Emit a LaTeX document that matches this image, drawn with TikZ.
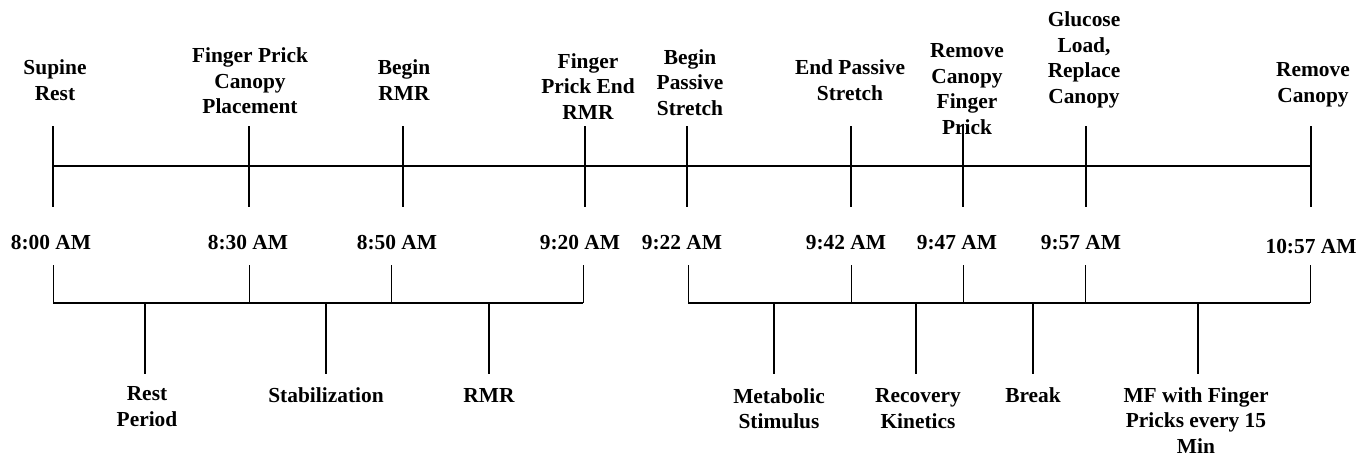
\documentclass[tikz,border=0pt]{standalone}
\usepackage{fontspec}
\setmainfont{Liberation Serif}
\begin{document}
\begin{tikzpicture}[x=1pt,y=-1pt,
  lbl/.style={font=\fontsize{21.4}{25.5}\selectfont\bfseries, align=center, inner sep=0pt},
  axis/.style={line width=2.6pt},
  tick/.style={line width=2.4pt},
  brk/.style={line width=2pt},
  upt/.style={line width=1pt},
  dnt/.style={line width=1.8pt}]
\useasboundingbox (0,0) rectangle (1363,456);
% top timeline
\foreach \i/\x in {1/53,2/249,3/403,4/585,5/687,6/851,7/963,8/1086,9/1311}{
  \coordinate (ta\i) at (\x,126);
  \coordinate (tb\i) at (\x,207);
  \coordinate (tm\i) at (\x,166);
  \draw[tick] (ta\i) -- (tb\i);
}
\draw[axis] (tm1) -- (tm9);
% top labels
\node[lbl] (sup)  at (55,80)    {Supine\\Rest};
\node[lbl] (fpc)  at (250,81)   {Finger Prick\\Canopy\\Placement};
\node[lbl] (brmr) at (404,80)   {Begin\\RMR};
\node[lbl] (fpe)  at (588,86.5) {Finger\\Prick End\\RMR};
\node[lbl] (bps)  at (690,82.5) {Begin\\Passive\\Stretch};
\node[lbl] (eps)  at (850,80)   {End Passive\\Stretch};
\node[lbl] (rcf)  at (967,89)   {Remove\\Canopy\\Finger\\Prick};
\node[lbl] (glc)  at (1084,60)  {Glucose\\Load,\\Replace\\Canopy};
\node[lbl] (rc)   at (1313,85)  {Remove\\Canopy};
% time labels
\node[lbl] (t1) at (51,243)  {8:00 AM};
\node[lbl] (t2) at (248,243) {8:30 AM};
\node[lbl] (t3) at (397,243) {8:50 AM};
\node[lbl] (t4) at (580,243) {9:20 AM};
\node[lbl] (t5) at (682,243) {9:22 AM};
\node[lbl] (t6) at (846,243) {9:42 AM};
\node[lbl] (t7) at (957,243) {9:47 AM};
\node[lbl] (t8) at (1081,243) {9:57 AM};
\node[lbl] (t9) at (1311,247) {10:57 AM};
% bottom brackets
\foreach \i/\x in {1/53,2/249,3/391,4/583,5/688,6/851,7/963,8/1085,9/1310}{
  \coordinate (ba\i) at (\x,265);
  \coordinate (bb\i) at (\x,303);
  \draw[upt] (ba\i) -- (bb\i);
}
\draw[brk] (bb1) -- (bb4);
\draw[brk] (bb5) -- (bb9);
\foreach \i/\x in {1/145,2/326,3/489,4/774,5/916,6/1033,7/1198}{
  \coordinate (da\i) at (\x,303);
  \coordinate (db\i) at (\x,374);
  \draw[dnt] (da\i) -- (db\i);
}
% bottom labels
\node[lbl] (rest) at (147,406.5) {Rest\\Period};
\node[lbl] (stab) at (326,395)   {Stabilization};
\node[lbl] (rmr)  at (489,395)   {RMR};
\node[lbl] (met)  at (779,408.5) {Metabolic\\Stimulus};
\node[lbl] (rec)  at (918,408.5) {Recovery\\Kinetics};
\node[lbl] (brkl) at (1033,395)  {Break};
\node[lbl] (mf)   at (1196,420.5) {MF with Finger\\Pricks every 15\\Min};
\end{tikzpicture}
\end{document}
